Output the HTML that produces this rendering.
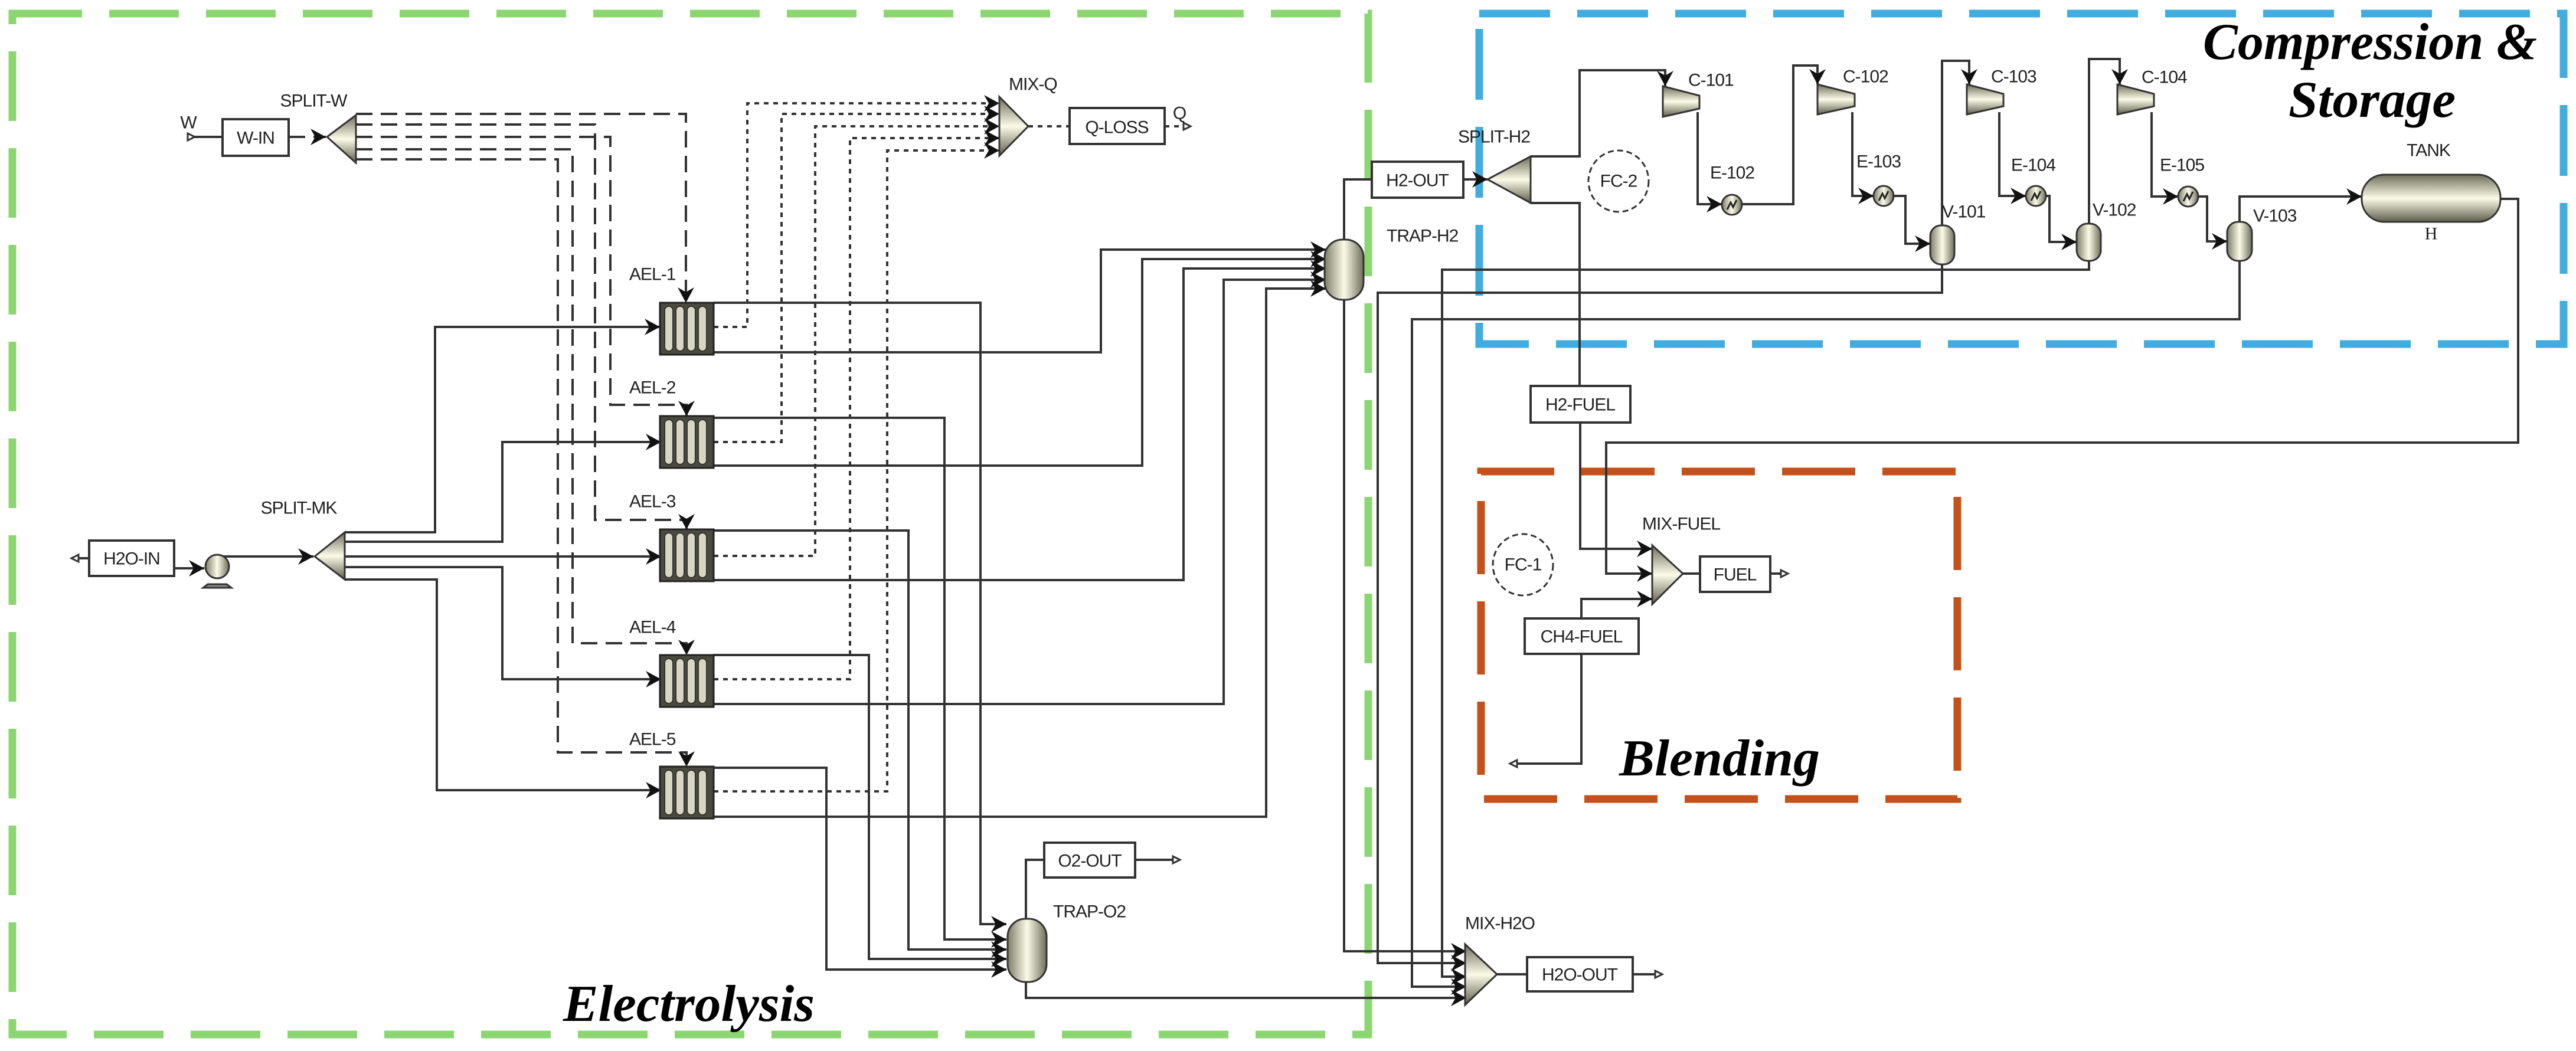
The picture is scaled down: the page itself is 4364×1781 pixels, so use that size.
<!DOCTYPE html>
<html><head><meta charset="utf-8"><style>html,body{margin:0;padding:0;background:#fff}svg{display:block}</style></head>
<body>
<svg width="4364" height="1781" viewBox="0 0 4364 1781" xmlns="http://www.w3.org/2000/svg" font-family="Liberation Sans, sans-serif">
<defs>
<marker id="a" markerUnits="userSpaceOnUse" markerWidth="30" markerHeight="28" refX="26" refY="14" orient="auto"><path d="M0,0 L26,14 L0,28 L8,14z" fill="#111"/></marker>
<linearGradient id="gh" x1="0" x2="1" y1="0" y2="0"><stop offset="0" stop-color="#7d7c68"/><stop offset="0.5" stop-color="#fbfbe8"/><stop offset="1" stop-color="#6e6d5a"/></linearGradient>
<linearGradient id="gv" x1="0" x2="0" y1="0" y2="1"><stop offset="0" stop-color="#6e6d5a"/><stop offset="0.5" stop-color="#fbfbe8"/><stop offset="1" stop-color="#5e5d4a"/></linearGradient>
<g id="ael"><rect x="0" y="0" width="91" height="88" fill="#4a4a40" stroke="#222" stroke-width="3"/><rect x="8" y="6" width="14" height="76" rx="7" fill="#d8d6c0" stroke="#333" stroke-width="2"/><rect x="27" y="6" width="14" height="76" rx="7" fill="#d8d6c0" stroke="#333" stroke-width="2"/><rect x="46" y="6" width="14" height="76" rx="7" fill="#d8d6c0" stroke="#333" stroke-width="2"/><rect x="65" y="6" width="14" height="76" rx="7" fill="#d8d6c0" stroke="#333" stroke-width="2"/></g>
<g id="ex"><circle cx="0" cy="0" r="17" fill="url(#gh)" stroke="#333" stroke-width="3"/><path d="M-8,8 L-2,-4 L2,4 L8,-8" fill="none" stroke="#222" stroke-width="3"/></g>
</defs>

<!-- region boxes -->
<rect x="21" y="23" width="2297" height="1730" fill="none" stroke="#8cd672" stroke-width="13" stroke-dasharray="118 46"/>
<rect x="2506" y="23" width="1837" height="560" fill="none" stroke="#41acdf" stroke-width="13" stroke-dasharray="120 46"/>
<rect x="2509" y="799" width="807" height="555" fill="none" stroke="#c4501a" stroke-width="13" stroke-dasharray="124 46"/>

<g fill="none" stroke="#333" stroke-width="4">
<!-- work streams -->
<g stroke-dasharray="28 14">
<path d="M489,232 H552" marker-end="url(#a)"/>
<path d="M603,193 H1162 V513" marker-end="url(#a)"/>
<path d="M603,211 H1008 V881 H1163 V897" marker-end="url(#a)"/>
<path d="M603,232 H1034 V686 H1163 V705" marker-end="url(#a)"/>
<path d="M603,253 H970 V1090 H1163 V1110" marker-end="url(#a)"/>
<path d="M603,270 H945 V1275 H1163 V1299" marker-end="url(#a)"/>
</g>
<!-- heat streams -->
<g stroke-dasharray="8 8">
<path d="M1209,554 H1266 V175 H1693" marker-end="url(#a)"/>
<path d="M1209,749 H1324 V193 H1693" marker-end="url(#a)"/>
<path d="M1209,942 H1381 V214 H1693" marker-end="url(#a)"/>
<path d="M1209,1151 H1440 V234 H1693" marker-end="url(#a)"/>
<path d="M1209,1341 H1503 V255 H1693" marker-end="url(#a)"/>
<path d="M1742,214 H1812"/><path d="M1973,214 H2005"/>
</g>
<!-- material -->
<path d="M330,232 H377"/>
<path d="M121,946 H151"/>
<path d="M295,963 H346" marker-end="url(#a)"/>
<path d="M368,943 H531" marker-end="url(#a)"/>
<path d="M584,902 H737 V554 H1118" marker-end="url(#a)"/>
<path d="M584,918 H851 V749 H1120" marker-end="url(#a)"/>
<path d="M584,943 H1120" marker-end="url(#a)"/>
<path d="M584,961 H851 V1151 H1120" marker-end="url(#a)"/>
<path d="M584,982 H740 V1339 H1120" marker-end="url(#a)"/>
<path d="M1209,513 H1661 V1566 H1705" marker-end="url(#a)"/>
<path d="M1209,597 H1865 V423 H2246" marker-end="url(#a)"/>
<path d="M1209,708 H1600 V1592 H1705" marker-end="url(#a)"/>
<path d="M1209,789 H1935 V439 H2246" marker-end="url(#a)"/>
<path d="M1209,899 H1539 V1609 H1705" marker-end="url(#a)"/>
<path d="M1209,983 H2005 V455 H2246" marker-end="url(#a)"/>
<path d="M1209,1110 H1472 V1625 H1705" marker-end="url(#a)"/>
<path d="M1209,1193 H2073 V474 H2246" marker-end="url(#a)"/>
<path d="M1209,1301 H1400 V1643 H1705" marker-end="url(#a)"/>
<path d="M1209,1384 H2145 V489 H2246" marker-end="url(#a)"/>
<path d="M1738,1557 V1457 H1769"/><path d="M1923,1457 H1987"/>
<path d="M1738,1664 V1691 H2484" marker-end="url(#a)"/>
<path d="M2277,406 V304 H2324"/>
<path d="M2479,304 H2520" marker-end="url(#a)"/>
<path d="M2593,265 H2676 V119 H2821 V146" marker-end="url(#a)"/>
<path d="M2593,344 H2676 V654"/>
<path d="M2677,716 V930 H2799" marker-end="url(#a)"/>
<path d="M2277,508 V1612 H2484" marker-end="url(#a)"/>
<path d="M3290,448 V496 H2334 V1632 H2484" marker-end="url(#a)"/>
<path d="M3539,442 V457 H2443 V1655 H2484" marker-end="url(#a)"/>
<path d="M3794,442 V541 H2392 V1672 H2484" marker-end="url(#a)"/>
<path d="M4236,337 H4266 V750 H2721 V972 H2799" marker-end="url(#a)"/>
<path d="M2679,1048 V1015 H2799" marker-end="url(#a)"/>
<path d="M2679,1108 V1294 H2558"/>
<path d="M2851,972 H2880"/><path d="M2999,972 H3017"/>
<path d="M2536,1651 H2587"/><path d="M2766,1651 H2804"/>
<path d="M2876,190 V346 H2917" marker-end="url(#a)"/>
<path d="M2951,346 H3038 V111 H3079 V143" marker-end="url(#a)"/>
<path d="M3138,190 V332 H3174" marker-end="url(#a)"/>
<path d="M3208,332 H3228 V413 H3270" marker-end="url(#a)"/>
<path d="M3290,382 V103 H3336 V143" marker-end="url(#a)"/>
<path d="M3387,190 V332 H3432" marker-end="url(#a)"/>
<path d="M3466,332 H3472 V410 H3518" marker-end="url(#a)"/>
<path d="M3539,379 V100 H3591 V143" marker-end="url(#a)"/>
<path d="M3645,190 V333 H3690" marker-end="url(#a)"/>
<path d="M3724,333 H3739 V409 H3773" marker-end="url(#a)"/>
<path d="M3794,376 V333 H4001" marker-end="url(#a)"/>
</g>

<!-- ports -->
<g fill="#fff" stroke="#333" stroke-width="3">
<path d="M318,226 L330,232 L318,238 Z"/><path d="M133,940 L121,946 L133,952 Z"/>
<path d="M2005,208 L2017,214 L2005,220 Z"/><path d="M1987,1451 L1999,1457 L1987,1463 Z"/>
<path d="M3017,966 L3029,972 L3017,978 Z"/><path d="M2804,1645 L2816,1651 L2804,1657 Z"/>
<path d="M2570,1288 L2558,1294 L2570,1300 Z"/>
</g>

<!-- blocks -->
<g fill="#fff" stroke="#333" stroke-width="4">
<rect x="377" y="202" width="112" height="62"/>
<rect x="151" y="916" width="144" height="60"/>
<rect x="1812" y="183" width="161" height="61"/>
<rect x="1769" y="1428" width="154" height="59"/>
<rect x="2324" y="274" width="155" height="61"/>
<rect x="2593" y="654" width="169" height="62"/>
<rect x="2583" y="1048" width="193" height="60"/>
<rect x="2880" y="943" width="119" height="60"/>
<rect x="2587" y="1622" width="179" height="58"/>
</g>
<g stroke="#333" stroke-width="3">
<polygon points="554,232 603,195 603,276" fill="url(#gv)"/>
<polygon points="533,943 584,902 584,982" fill="url(#gv)"/>
<polygon points="1693,164 1742,214 1693,264" fill="url(#gv)"/>
<polygon points="2520,304 2593,265 2593,344" fill="url(#gv)"/>
<polygon points="2799,924 2851,972 2799,1024" fill="url(#gv)"/>
<polygon points="2482,1600 2536,1651 2482,1703" fill="url(#gv)"/>
<circle cx="368" cy="960" r="20" fill="url(#gh)"/>
<polygon points="352,990 384,990 392,996 344,996" fill="#888"/>
<rect x="1707" y="1557" width="66" height="107" rx="30" fill="url(#gh)"/>
<rect x="2244" y="406" width="66" height="102" rx="30" fill="url(#gh)"/>
<rect x="3270" y="382" width="41" height="66" rx="18" fill="url(#gh)"/>
<rect x="3518" y="379" width="41" height="63" rx="18" fill="url(#gh)"/>
<rect x="3773" y="376" width="42" height="66" rx="18" fill="url(#gh)"/>
<rect x="4001" y="296" width="235" height="80" rx="38" fill="url(#gv)"/>
<polygon points="2817,146 2879,162 2879,184 2817,198" fill="url(#gv)"/>
<polygon points="3079,143 3142,159 3142,180 3079,194" fill="url(#gv)"/>
<polygon points="3332,143 3394,159 3394,180 3332,194" fill="url(#gv)"/>
<polygon points="3587,143 3649,159 3649,180 3587,194" fill="url(#gv)"/>
</g>
<use href="#ex" x="2934" y="347"/><use href="#ex" x="3191" y="332"/><use href="#ex" x="3449" y="332"/><use href="#ex" x="3707" y="333"/>
<use href="#ael" x="1118" y="513"/><use href="#ael" x="1118" y="705"/><use href="#ael" x="1118" y="897"/><use href="#ael" x="1118" y="1110"/><use href="#ael" x="1118" y="1299"/>
<g fill="none" stroke="#333" stroke-width="3" stroke-dasharray="10 6">
<ellipse cx="2742" cy="307" rx="51" ry="52"/><ellipse cx="2580" cy="957" rx="51" ry="52"/>
</g>

<!-- labels -->
<g font-size="30" fill="#222" dominant-baseline="central" letter-spacing="-1">
<text x="319" y="208" text-anchor="middle">W</text>
<text x="433" y="234" text-anchor="middle">W-IN</text>
<text x="531" y="171" text-anchor="middle">SPLIT-W</text>
<text x="223" y="947" text-anchor="middle">H2O-IN</text>
<text x="506" y="861" text-anchor="middle">SPLIT-MK</text>
<text x="1066" y="465">AEL-1</text><text x="1066" y="657">AEL-2</text><text x="1066" y="850">AEL-3</text><text x="1066" y="1063">AEL-4</text><text x="1066" y="1253">AEL-5</text>
<text x="1709" y="143">MIX-Q</text>
<text x="1892" y="216" text-anchor="middle">Q-LOSS</text>
<text x="1998" y="192" text-anchor="middle">Q</text>
<text x="1846" y="1459" text-anchor="middle">O2-OUT</text>
<text x="1784" y="1545">TRAP-O2</text>
<text x="2401" y="306" text-anchor="middle">H2-OUT</text>
<text x="2531" y="232" text-anchor="middle">SPLIT-H2</text>
<text x="2349" y="400">TRAP-H2</text>
<text x="2742" y="307" text-anchor="middle">FC-2</text>
<text x="2860" y="136">C-101</text><text x="3122" y="130">C-102</text><text x="3373" y="130">C-103</text><text x="3628" y="131">C-104</text>
<text x="2897" y="293">E-102</text><text x="3145" y="274">E-103</text><text x="3407" y="280">E-104</text><text x="3659" y="280">E-105</text>
<text x="3290" y="359">V-101</text><text x="3545" y="356">V-102</text><text x="3817" y="366">V-103</text>
<text x="4114" y="255" text-anchor="middle">TANK</text>
<text x="4118" y="396" text-anchor="middle" font-family="Liberation Serif, serif">H</text>
<text x="2677" y="686" text-anchor="middle">H2-FUEL</text>
<text x="2782" y="888">MIX-FUEL</text>
<text x="2580" y="957" text-anchor="middle">FC-1</text>
<text x="2939" y="974" text-anchor="middle">FUEL</text>
<text x="2679" y="1079" text-anchor="middle">CH4-FUEL</text>
<text x="2482" y="1565">MIX-H2O</text>
<text x="2676" y="1652" text-anchor="middle">H2O-OUT</text>
</g>
<g font-family="Liberation Serif, serif" font-weight="bold" font-style="italic" font-size="88" fill="#000">
<text x="3732" y="100" textLength="566" lengthAdjust="spacingAndGlyphs">Compression &amp;</text>
<text x="3877" y="198" textLength="283" lengthAdjust="spacingAndGlyphs">Storage</text>
<text x="954" y="1730" textLength="426" lengthAdjust="spacingAndGlyphs">Electrolysis</text>
<text x="2743" y="1314" textLength="340" lengthAdjust="spacingAndGlyphs">Blending</text>
</g>
</svg>
</body></html>
